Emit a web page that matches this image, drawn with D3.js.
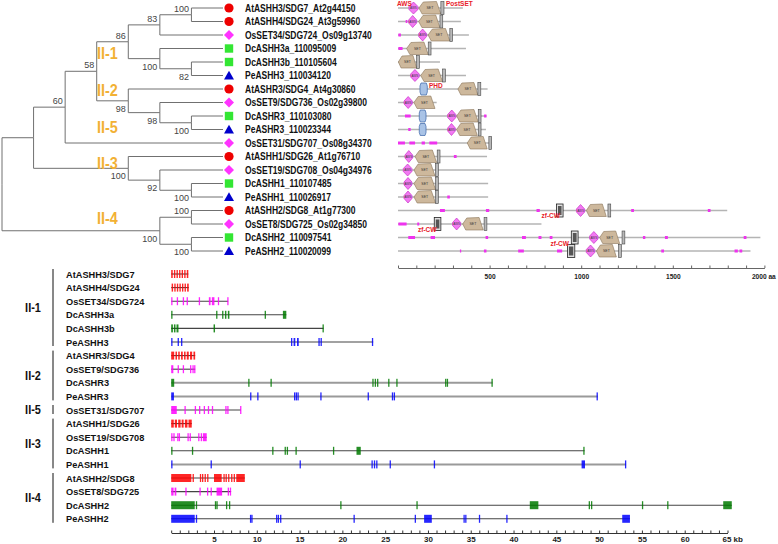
<!DOCTYPE html>
<html><head><meta charset="utf-8">
<script src="https://cdn.jsdelivr.net/npm/d3@7"></script>
<style>
body{margin:0;background:#fff;}
svg{display:block;font-family:"Liberation Sans",Arial,sans-serif;}
</style></head><body>
<svg id="c" width="778" height="544"></svg>
<script>
// ---------------- DATA ----------------
const treeNewick = "(((((((AtASHH3,AtASHH4)100,OsSET34)83,(DcASHH3a,(DcASHH3b,PeASHH3)82)100)86,(AtASHR3,(OsSET9,(DcASHR3,PeASHR3)100)98)98)58,OsSET31)60,(AtASHH1,(OsSET19,(DcASHH1,PeASHH1)100)92)100),((AtASHH2,OsSET8)100,(DcASHH2,PeASHH2)100)100);";

const leafKeys = ["AtASHH3","AtASHH4","OsSET34","DcASHH3a","DcASHH3b","PeASHH3","AtASHR3","OsSET9","DcASHR3","PeASHR3","OsSET31","AtASHH1","OsSET19","DcASHH1","PeASHH1","AtASHH2","OsSET8","DcASHH2","PeASHH2"];
const leafLabels = ["AtASHH3/SDG7_At2g44150","AtASHH4/SDG24_At3g59960","OsSET34/SDG724_Os09g13740","DcASHH3a_110095009","DcASHH3b_110105604","PeASHH3_110034120","AtASHR3/SDG4_At4g30860","OsSET9/SDG736_Os02g39800","DcASHR3_110103080","PeASHR3_110023344","OsSET31/SDG707_Os08g34370","AtASHH1/SDG26_At1g76710","OsSET19/SDG708_Os04g34976","DcASHH1_110107485","PeASHH1_110026917","AtASHH2/SDG8_At1g77300","OsSET8/SDG725_Os02g34850","DcASHH2_110097541","PeASHH2_110020099"];
const cladeNames = ["II-1","II-2","II-5","II-3","II-4"];

const proteinLength = [354,343,387,371,229,371,489,211,483,480,510,486,505,492,492,1797,783,1978,1924];
const proteinDomains = [
 [["AWS",60,109],["SET",114,234],["PostSET",234,251]],
 [["LC",42,51],["AWS",58,102],["SET",113,229],["PostSET",229,244]],
 [["LC",2,16],["AWS",113,156],["SET",164,283],["PostSET",283,294]],
 [["LC",2,25],["SET",47,165],["PostSET",165,180]],
 [["SET",2,102],["PostSET",102,116]],
 [["AWS",69,116],["SET",124,243],["PostSET",243,256]],
 [["PHD",120,160],["SET",327,436],["PostSET",436,452]],
 [["AWS",33,78],["SET",87,202]],
 [["LC",38,69],["PHD",116,153],["AWS",271,316],["SET",320,438],["PostSET",438,452],["LC",470,483]],
 [["LC",56,69],["PHD",116,153],["AWS",271,313],["SET",320,433],["PostSET",438,450]],
 [["LC",0,38],["LC",62,93],["LC",129,147],["LC",171,214],["SET",378,487],["PostSET",496,510]],
 [["AWS",38,80],["SET",93,211],["PostSET",214,229],["LC",305,320]],
 [["AWS",29,76],["SET",87,202],["PostSET",205,220]],
 [["AWS",33,76],["SET",87,205],["PostSET",205,220]],
 [["AWS",33,76],["SET",87,205],["PostSET",205,220],["LC",269,283]],
 [["LC",229,256],["LC",480,498],["LC",756,774],["zfCW",865,901],["AWS",974,1019],["SET",1028,1137],["PostSET",1146,1161],["LC",1273,1288],["LC",1691,1706]],
 [["LC",2,47],["LC",105,116],["zfCW",198,234],["AWS",298,342],["SET",353,465],["PostSET",470,485]],
 [["LC",56,93],["LC",178,202],["LC",478,492],["LC",677,698],["LC",767,783],["LC",828,843],["zfCW",946,983],["AWS",1046,1092],["SET",1101,1210],["PostSET",1223,1237],["LC",1337,1350],["LC",1457,1473],["LC",1887,1902]],
 [["LC",338,345],["LC",469,483],["LC",656,687],["LC",868,896],["zfCW",925,965],["AWS",1028,1074],["SET",1083,1192],["PostSET",1204,1219],["LC",1437,1452],["LC",1837,1855],["LC",1864,1879]]
];
const protTicks = [0,100,200,300,400,500,600,700,800,900,1000,1100,1200,1300,1400,1500,1600,1700,1800,1900,2000];
const protTickLabels = {500:"500",1000:"1000",1500:"1500",2000:"2000 aa"};

const geneNames = ["AtASHH3/SDG7","AtASHH4/SDG24","OsSET34/SDG724","DcASHH3a","DcASHH3b","PeASHH3","AtASHR3/SDG4","OsSET9/SDG736","DcASHR3","PeASHR3","OsSET31/SDG707","AtASHH1/SDG26","OsSET19/SDG708","DcASHH1","PeASHH1","AtASHH2/SDG8","OsSET8/SDG725","DcASHH2","PeASHH2"];
const geneGroups = [["II-1",0,5],["II-2",6,9],["II-5",10,10],["II-3",11,14],["II-4",15,18]];
const geneExons = [
 [[0,0.18],[0.32,0.48],[0.62,0.78],[0.92,1.08],[1.22,1.38],[1.52,1.68],[1.82,2.0]],
 [[0.05,0.22],[0.36,0.52],[0.66,0.82],[0.96,1.12],[1.26,1.42],[1.56,1.72],[1.86,2.05]],
 [[0,0.15],[0.65,0.8],[1.35,1.5],[1.8,1.95],[3.22,3.32],[4.4,4.6],[4.75,5.05],[5.45,5.6],[6.55,6.65]],
 [[0,0.08],[5.25,5.38],[5.95,6.1],[6.28,6.45],[6.62,6.8],[10.92,11.05],[13.05,13.45]],
 [[0,0.2],[0.32,0.5],[0.62,0.85],[4.95,5.12],[17.68,17.8]],
 [[0,0.15],[0.75,0.9],[1.15,1.3],[14.0,14.15],[14.3,14.5],[14.7,14.9],[17.2,17.3],[17.45,17.55],[23.45,23.6]],
 [[0,0.35],[0.5,0.68],[0.82,1.0],[1.15,1.35],[1.5,1.68],[1.82,2.05],[2.2,2.45],[2.6,2.8]],
 [[0,0.25],[0.75,0.88],[1.35,1.48],[2.2,2.35],[2.48,2.6],[2.68,2.8]],
 [[0,0.35],[9.0,9.15],[11.6,11.75],[23.5,23.62],[23.78,23.9],[24.05,24.17],[25.35,25.47],[26.3,26.42],[32.0,32.1],[32.2,32.3],[37.42,37.55]],
 [[0,0.32],[9.22,9.35],[10.05,10.18],[14.35,14.45],[14.55,14.65],[14.75,14.85],[17.42,17.55],[22.95,23.05],[25.78,25.9],[26.0,26.12],[49.7,49.85]],
 [[0,0.65],[1.55,1.65],[2.75,2.85],[3.25,3.35],[3.8,3.9],[4.28,4.38],[4.75,4.85],[6.32,6.42],[6.55,6.65],[8.05,8.15]],
 [[0,0.3],[0.42,0.68],[0.82,1.1],[1.22,1.45],[1.6,1.9],[2.02,2.4]],
 [[0,0.12],[0.25,0.35],[0.7,0.8],[0.88,0.98],[1.9,2.0],[2.15,2.28],[3.15,3.3],[3.45,3.6],[3.7,4.15]],
 [[0,0.06],[2.42,2.52],[11.8,11.92],[13.25,13.4],[13.5,13.65],[14.52,14.64],[18.9,19.0],[21.65,22.15],[48.15,48.3]],
 [[0,0.06],[4.6,4.7],[15.0,15.12],[23.4,23.5],[23.68,23.78],[23.95,24.07],[25.52,25.64],[30.68,30.78],[47.95,48.35],[53.02,53.15]],
 [[0,2.35],[2.5,2.65],[3.35,3.47],[3.6,3.72],[3.9,4.02],[4.2,4.35],[5.0,5.9],[6.1,6.22],[6.35,6.5],[6.65,6.78],[7.0,7.12],[7.3,7.42],[7.6,8.6]],
 [[0,0.28],[0.4,0.6],[1.65,1.8],[3.3,3.45],[4.18,4.3],[4.6,4.75],[5.3,5.95],[6.6,6.7],[6.85,7.0]],
 [[0,2.75],[2.88,3.0],[5.1,5.18],[5.28,5.36],[6.4,6.5],[6.75,6.88],[19.75,19.85],[28.65,28.75],[41.9,42.9],[48.78,48.88],[49.05,49.15],[55.0,55.1],[57.95,58.05],[64.5,65.5]],
 [[0,2.75],[2.88,3.0],[9.2,9.28],[9.36,9.44],[12.25,12.35],[12.45,12.55],[12.72,12.82],[21.3,21.4],[28.45,28.55],[29.55,30.45],[34.15,34.25],[34.35,34.45],[35.95,36.05],[39.15,39.25],[52.7,53.6]]
];
const geneTicks = d3.range(0,66,1);
const geneTickLabels = [5,10,15,20,25,30,35,40,45,50,55,60,65];

// ---------------- HELPERS ----------------
function parseNewick(s){
  let i=0;
  function node(){
    const n={};
    if(s[i]==='('){ i++; n.children=[node()]; while(s[i]===','){i++; n.children.push(node());} i++; }
    let tok=''; while(i<s.length && !',();'.includes(s[i])) tok+=s[i++];
    if(n.children) n.support = tok===''?null:+tok; else n.name=tok;
    return n;
  }
  return node();
}
function squeeze(sel,f){ sel.each(function(){ const L=this.getComputedTextLength(); if(L>0){this.setAttribute("textLength",L*f); this.setAttribute("lengthAdjust","spacingAndGlyphs");} }); }
const speciesOf = k => k.slice(0,2);
const symColor = {At:"#ee0000",Os:"#ff33ff",Dc:"#33e633",Pe:"#0000cc"};
const exonColor = {At:"#ff0000",Os:"#ff00ff",Dc:"#007a00",Pe:"#0000ff"};

const svg = d3.select("#c");

// ---------------- TREE ----------------
const root = d3.hierarchy(parseNewick(treeNewick));
d3.cluster().size([19*13.5,221]).separation(()=>1)(root);
const TX = d => 2 + d.y, TY = d => 1.25 + d.x;
const gT = svg.append("g");
gT.selectAll("path.link").data(root.links()).join("path")
  .attr("fill","none").attr("stroke","#707070").attr("stroke-width",1)
  .attr("d",l=>`M${TX(l.source)},${TY(l.source)}V${TY(l.target)}H${TX(l.target)}`);
// bootstrap
const internal = root.descendants().filter(d=>d.children && d.parent && d.data.support!=null);
gT.selectAll("text.bs").data(internal).join("text")
  .attr("x",d=>TX(d)-2.5)
  .attr("y",d=>d.parent.children[0]===d ? TY(d)-3 : TY(d)+11)
  .attr("text-anchor","end").attr("font-size",9).attr("fill","#444")
  .text(d=>d.data.support);
// leaves
const leaves = root.leaves();
const symG = gT.selectAll("g.leaf").data(leaves).join("g")
  .attr("transform",d=>`translate(229,${TY(d)})`);
symG.each(function(d){
  const g=d3.select(this), sp=speciesOf(d.data.name), c=symColor[sp];
  if(sp==="At") g.append("circle").attr("r",4.6).attr("fill",c);
  else if(sp==="Os") g.append("path").attr("d","M0,-5L5,0L0,5L-5,0Z").attr("fill",c);
  else if(sp==="Dc") g.append("rect").attr("x",-4.2).attr("y",-4.2).attr("width",8.4).attr("height",8.4).attr("fill",c);
  else g.append("path").attr("d","M0,-4.8L5,4L-5,4Z").attr("fill",c);
});
const leafText = gT.selectAll("text.lf").data(leaves).join("text")
  .attr("x",245).attr("y",d=>TY(d)+3.6)
  .attr("font-size",10).attr("font-weight","bold").attr("fill","#111")
  .text(d=>leafLabels[leafKeys.indexOf(d.data.name)]);
squeeze(leafText,0.85);
// clade labels
const cladeY = [53,90,127,163,218];
const cl = gT.selectAll("text.cl").data(cladeNames).join("text")
  .attr("x",97).attr("y",(d,i)=>cladeY[i]+5.5)
  .attr("font-size",16).attr("font-weight","bold").attr("fill","#f2b134").text(d=>d);
squeeze(cl,0.9);

// ---------------- PROTEIN DOMAINS ----------------
const xP = d3.scaleLinear().domain([0,2000]).range([398,764.4]);
const gP = svg.append("g");
const rowY = leafKeys.map(k=>TY(leaves.find(l=>l.data.name===k)));
proteinLength.forEach((len,i)=>{
  const y=rowY[i];
  gP.append("line").attr("x1",xP(0)).attr("x2",xP(len)).attr("y1",y).attr("y2",y).attr("stroke","#b4b4b4").attr("stroke-width",1.5);
  const doms = proteinDomains[i];
  const order = ["LC","PHD","zfCW","AWS","SET","PostSET"];
  doms.slice().sort((a,b)=>order.indexOf(a[0])-order.indexOf(b[0])).forEach(([t,s,e])=>{
    const x0=xP(s), x1=xP(e), xm=(x0+x1)/2;
    if(t==="LC"){
      gP.append("rect").attr("x",x0).attr("y",y-1.5).attr("width",Math.max(1.2,x1-x0)).attr("height",3).attr("fill","#ee33ee");
    } else if(t==="AWS"){
      gP.append("path").attr("d",`M${x0},${y-1.5}L${xm},${y-6}L${x1},${y-1.5}L${x1},${y+1.5}L${xm},${y+6}L${x0},${y+1.5}Z`)
        .attr("fill","#f27af2").attr("stroke","#c21cc2").attr("stroke-width",0.6);
      gP.append("text").attr("x",xm).attr("y",y+1).attr("text-anchor","middle").attr("font-size",3).attr("fill","#333").text("AWS");
    } else if(t==="SET"){
      const w=x1-x0;
      gP.append("path").attr("d",`M${x0},${y}L${x0+0.2*w},${y-6}L${x1-0.2*w},${y-6.5}L${x1},${y+6}L${x0+0.15*w},${y+6}Z`)
        .attr("fill","#cdb89c").attr("stroke","#8a7457").attr("stroke-width",0.6);
      gP.append("text").attr("x",x0+w*0.5).attr("y",y+1.2).attr("text-anchor","middle").attr("font-size",3.5).attr("fill","#333").text("SET");
    } else if(t==="PostSET"){
      gP.append("rect").attr("x",x0).attr("y",y-6.5).attr("width",Math.max(2.8,x1-x0)).attr("height",13).attr("fill","#b8b8b8").attr("stroke","#444").attr("stroke-width",0.6);
    } else if(t==="PHD"){
      gP.append("path").attr("d",`M${x0+1},${y-6}L${x1-1},${y-6}L${x1},${y-3}L${x1},${y+3}L${x1-1},${y+6}L${x0+1},${y+6}L${x0},${y+3}L${x0},${y-3}Z`)
        .attr("fill","#a9c3e6").attr("stroke","#3a64a8").attr("stroke-width",0.7);
    } else if(t==="zfCW"){
      gP.append("rect").attr("x",x0).attr("y",y-6.5).attr("width",x1-x0).attr("height",13).attr("fill","#e0e0e0").attr("stroke","#222").attr("stroke-width",0.8);
      gP.append("rect").attr("x",x0+1.5).attr("y",y-4.5).attr("width",x1-x0-3).attr("height",9).attr("fill","#555");
    }
  });
});
// domain annotation labels
const annot = [["AWS",397,5.5],["PostSET",446,5.5],["PHD",429,88],["zf-CW",541.5,217.5],["zf-CW",418,231.5],["zf-CW",550.5,245.5]];
gP.selectAll("text.an").data(annot).join("text").attr("x",d=>d[1]).attr("y",d=>d[2])
  .attr("font-size",6.5).attr("font-weight","bold").attr("fill","#e8212a").text(d=>d[0]);
// axis
const axP = gP.append("g").attr("transform","translate(0,268)")
  .call(d3.axisBottom(xP).tickValues(protTicks).tickSizeInner(-2.5).tickSizeOuter(0).tickPadding(5.5)
    .tickFormat(d=>protTickLabels[d]||""));
axP.select(".domain").attr("stroke","#666");
axP.selectAll(".tick line").attr("stroke","#666");
axP.selectAll("text").attr("font-size",7.5).attr("font-weight","bold").attr("fill","#222").attr("font-family","Liberation Sans, Arial");
axP.selectAll(".tick").filter(d=>d===2000).select("text").attr("text-anchor","start").attr("x",-13);
squeeze(axP.selectAll("text"),0.88);

// ---------------- GENE STRUCTURES ----------------
const xG = d3.scaleLinear().domain([0,65]).range([171.2,727.5]);
const gY = i => 274 + 13.6*i;
const gG = svg.append("g");
const heavy = new Set(["DcASHR3","PeASHR3","PeASHH1"]);
geneNames.forEach((nm,i)=>{
  const y=gY(i), ex=geneExons[i], sp=nm.slice(0,2), end=ex[ex.length-1][1];
  gG.append("line").attr("x1",xG(0)).attr("x2",xG(end)).attr("y1",y).attr("y2",y)
    .attr("stroke",heavy.has(nm)?"#9a9a9a":"#444").attr("stroke-width",heavy.has(nm)?2:1.1);
  gG.selectAll(null).data(ex).join("rect")
    .attr("x",d=>xG(d[0])).attr("y",y-4).attr("width",d=>Math.max(1.3,xG(d[1])-xG(d[0]))).attr("height",8)
    .attr("fill",exonColor[sp]).attr("opacity",0.85);
});
const gl = gG.selectAll("text.gn").data(geneNames).join("text")
  .attr("x",66).attr("y",(d,i)=>gY(i)+3.5).attr("font-size",9.5).attr("font-weight","bold").attr("fill","#111").text(d=>d);
squeeze(gl,0.97);
geneGroups.forEach(([nm,a,b])=>{
  const y0=gY(a)-5, y1=gY(b)+4;
  gG.append("line").attr("x1",53).attr("x2",53).attr("y1",y0).attr("y2",y1).attr("stroke","#111").attr("stroke-width",1);
  const t=gG.append("text").attr("x",33).attr("y",(y0+y1)/2+4.5).attr("text-anchor","middle")
    .attr("font-size",13).attr("font-weight","bold").attr("fill","#111").text(nm);
  squeeze(t,0.84);
});
const axG = gG.append("g").attr("transform","translate(0,533)")
  .call(d3.axisBottom(xG).tickValues(geneTicks).tickSizeInner(-2.5).tickSizeOuter(0).tickPadding(3)
    .tickFormat(d=>geneTickLabels.includes(d)?(d===65?"65 kb":d):""));
axG.select(".domain").attr("stroke","#333");
axG.selectAll(".tick line").attr("stroke","#333");
axG.selectAll("text").attr("font-size",8).attr("font-weight","bold").attr("fill","#222").attr("font-family","Liberation Sans, Arial");
axG.selectAll(".tick").filter(d=>d===65).select("text").attr("text-anchor","start").attr("x",-5.5);
</script>
</body></html>
